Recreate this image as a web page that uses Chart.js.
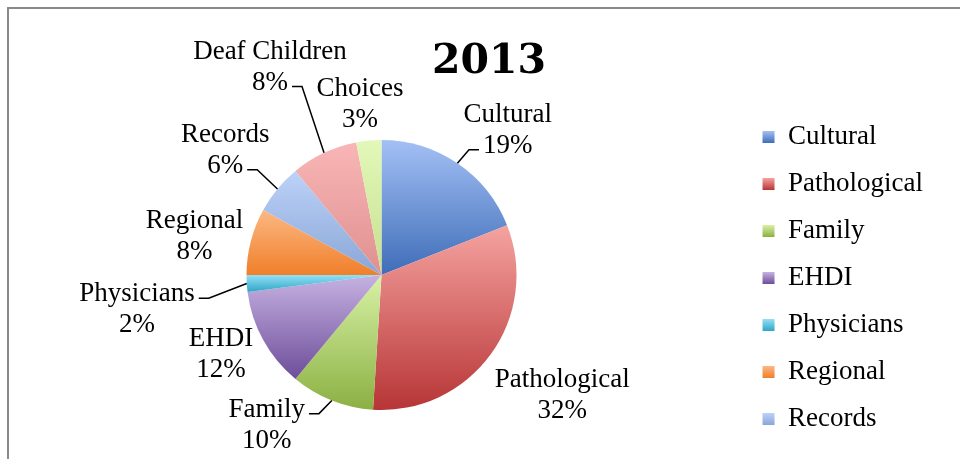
<!DOCTYPE html>
<html>
<head>
<meta charset="utf-8">
<script src="https://cdn.jsdelivr.net/npm/chart.js@4.4.1/dist/chart.umd.min.js"></script>
<style>
  body { margin: 0; background: #fff; }
  #wrap { position: relative; width: 960px; height: 459px; overflow: hidden; }
  #frame { position: absolute; left: 7px; top: 7px; width: 1000px; height: 500px;
           border-top: 2px solid #8a8a8a; border-left: 2px solid #8a8a8a; pointer-events: none; }
</style>
</head>
<body>
<div id="wrap">
  <canvas id="pieChart" width="960" height="459"></canvas>
  <div id="frame"></div>
</div>
<script>
const categories = ['Cultural', 'Pathological', 'Family', 'EHDI', 'Physicians', 'Regional', 'Records', 'Deaf Children', 'Choices'];
const shares = [19, 32, 10, 12, 2, 8, 6, 8, 3];
const chartTitle = '2013';

// light (top) and dark (bottom) end of each slice's gradient
const topColors = ['#a3c0f5', '#f5a3a0', '#d8f2a6', '#c6b2e2', '#94e0f6', '#fcb884', '#bcd2f8', '#f9b6b6', '#e2f8ba'];
const bottomColors = ['#3f6db8', '#b73536', '#8bb043', '#6d4d99', '#2fa6c6', '#f07f2a', '#8aa6d6', '#df9090', '#c6e08e'];

// where each outside label sits: distance from centre and turn off the slice's mid angle
const labelDist = [192, 217, 189, 179, 247, 191, 200, 236, 172];
const labelTurn = [6.9, -2.4, 15.8, 2.6, -4.5, -2.6, -1, -3, -1.8];
const leaders = [true, false, true, false, true, false, true, true, false];
const legendCount = 7;

const FONT = '"Liberation Serif", serif';
const TITLE_FONT = 'bold 41px "DejaVu Serif", serif';
const LINE = 31;

function sliceGradient(c) {
    const arc = c.element;
    const i = c.dataIndex;
    if (!arc || arc.x === undefined || arc.outerRadius === undefined) return topColors[i];
    const ys = [arc.y,
        arc.y + arc.outerRadius * Math.sin(arc.startAngle),
        arc.y + arc.outerRadius * Math.sin(arc.endAngle)];
    [-Math.PI / 2, Math.PI / 2, 3 * Math.PI / 2].forEach(t => {
        if (t >= arc.startAngle && t <= arc.endAngle) ys.push(arc.y + arc.outerRadius * Math.sin(t));
    });
    const top = Math.min(...ys);
    const bottom = Math.max(...ys);
    const g = c.chart.ctx.createLinearGradient(0, top, 0, bottom);
    g.addColorStop(0, topColors[i]);
    g.addColorStop(1, bottomColors[i]);
    return g;
}

const sliceLabels = {
    id: 'sliceLabels',
    afterDatasetsDraw(chart) {
        const ctx = chart.ctx;
        const meta = chart.getDatasetMeta(0);
        ctx.save();
        ctx.font = '27px ' + FONT;
        ctx.fillStyle = '#000';
        ctx.strokeStyle = '#000';
        ctx.lineWidth = 1.5;
        ctx.textAlign = 'center';
        ctx.textBaseline = 'middle';
        meta.data.forEach((arc, i) => {
            const mid = (arc.startAngle + arc.endAngle) / 2;
            const a = mid + labelTurn[i] * Math.PI / 180;
            const cx = arc.x + Math.cos(a) * labelDist[i];
            const cy = arc.y + Math.sin(a) * labelDist[i];
            const lines = [categories[i], shares[i] + '%'];
            const ys = [cy - LINE / 2, cy + LINE / 2];
            lines.forEach((t, k) => ctx.fillText(t, cx, ys[k]));

            if (!leaders[i]) return;
            const k = Math.abs(ys[0] - arc.y) < Math.abs(ys[1] - arc.y) ? 0 : 1;
            const w = ctx.measureText(lines[k]).width;
            const side = cx > arc.x ? -1 : 1;
            const x0 = cx + side * (w / 2 + 4);
            const y0 = ys[k] + 4;
            const x1 = x0 + side * 10;
            const ex = arc.x + Math.cos(mid) * arc.outerRadius;
            const ey = arc.y + Math.sin(mid) * arc.outerRadius;
            ctx.beginPath();
            ctx.moveTo(x0, y0);
            ctx.lineTo(x1, y0);
            ctx.lineTo(ex, ey);
            ctx.stroke();
        });

        // title sits to the upper right of the pie, as in the original sheet
        ctx.font = TITLE_FONT;
        ctx.textBaseline = 'alphabetic';
        ctx.fillText(chartTitle, 489, 73);
        ctx.restore();
    }
};

// legend swatches get the same light-to-dark fade
const legendFade = {
    id: 'legendFade',
    beforeDraw(chart) {
        const legend = chart.legend;
        if (!legend || !legend.legendHitBoxes) return;
        legend.legendItems.forEach((item, n) => {
            const box = legend.legendHitBoxes[n];
            if (!box) return;
            const i = item.index;
            const y = box.top + (box.height - 12) / 2;
            const g = chart.ctx.createLinearGradient(0, y, 0, y + 12);
            g.addColorStop(0, topColors[i]);
            g.addColorStop(1, bottomColors[i]);
            item.fillStyle = g;
        });
    }
};

const ctx = document.getElementById('pieChart').getContext('2d');
const pieChart = new Chart(ctx, {
    type: 'pie',
    data: {
        labels: categories,
        datasets: [{
            data: shares,
            backgroundColor: sliceGradient,
            borderWidth: 0,
            radius: 135
        }]
    },
    options: {
        responsive: false,
        animation: false,
        events: [],
        layout: { padding: { left: 20.5, right: 27, top: 97.5, bottom: 6.5 } },
        plugins: {
            title: { display: false },
            legend: {
                position: 'right',
                align: 'end',
                labels: {
                    color: '#000',
                    font: { family: FONT, size: 27 },
                    boxWidth: 12,
                    boxHeight: 12,
                    padding: 20,
                    filter: item => item.index < legendCount
                }
            },
            tooltip: { enabled: false }
        }
    },
    plugins: [sliceLabels, legendFade]
});

pieChart.update();
</script>
</body>
</html>
